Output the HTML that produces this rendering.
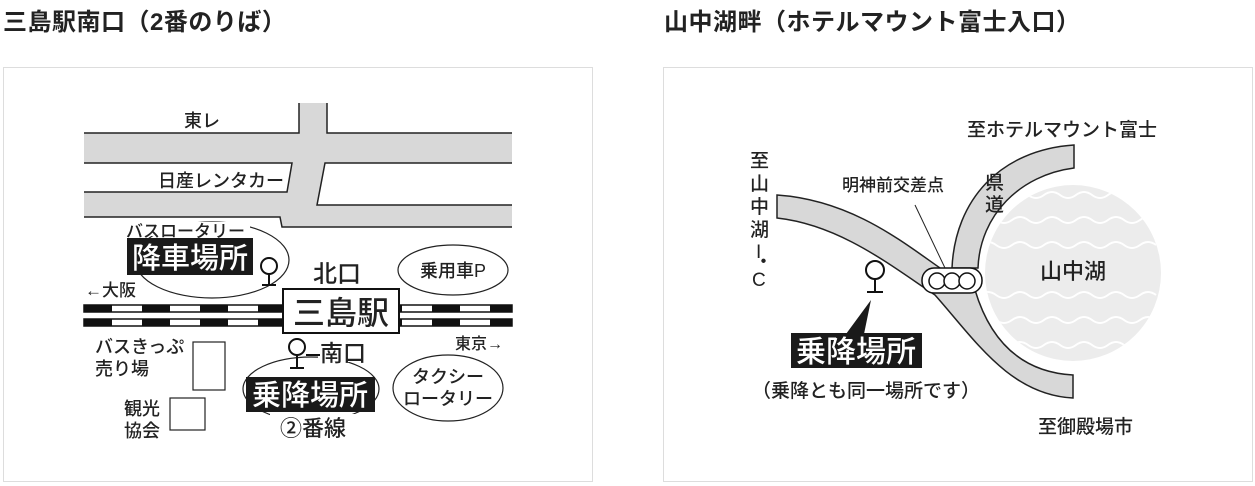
<!DOCTYPE html>
<html><head><meta charset="utf-8"><style>
html,body{margin:0;padding:0;background:#fff;width:1255px;height:486px;overflow:hidden}
svg{position:absolute;left:0;top:0}
text{font-family:"Liberation Sans","Noto Sans CJK JP",sans-serif;fill:#222;font-weight:500}
</style></head><body>
<svg width="1255" height="486" viewBox="0 0 1255 486">
<defs>
<pattern id="rail" x="84" y="0" width="58" height="10" patternUnits="userSpaceOnUse">
<rect x="0" y="0" width="28" height="10" fill="#111"/><rect x="28" y="0" width="30" height="10" fill="#fff"/>
</pattern>
<clipPath id="lake"><circle cx="1073" cy="273" r="88"/></clipPath>
</defs>
<text x="3" y="30" font-size="24" letter-spacing="0.5" style="font-weight:bold" fill="#333">三島駅南口（2番のりば）</text>
<text x="664" y="30" font-size="24" letter-spacing="0.5" style="font-weight:bold" fill="#333">山中湖畔（ホテルマウント富士入口）</text>
<rect x="3.5" y="67.5" width="589" height="414" fill="#fff" stroke="#ddd"/>
<rect x="663.5" y="67.5" width="589" height="414" fill="#fff" stroke="#ddd"/>

<!-- LEFT MAP -->
<path d="M84,133 L299,133 L299,103 L327,103 L327,133 L512,133 L512,227 L282,227 L280,217 L84,217 Z" fill="#d8d8d8"/>
<path d="M84,133 L299,133 L299,103 M327,103 L327,133 L512,133 M512,227 L282,227 L280,217 L84,217" fill="none" stroke="#222" stroke-width="1.5"/>
<path d="M84,163 L292,163 L287,192 L84,192" fill="#fff" stroke="#222" stroke-width="1.5"/>
<path d="M512,163 L325,163 L317,205 L512,205" fill="#fff" stroke="#222" stroke-width="1.5"/>
<text x="184" y="127" font-size="18">東レ</text>
<text x="158" y="187" font-size="18">日産レンタカー</text>

<rect x="84" y="305" width="428" height="7" fill="url(#rail)" stroke="#111" stroke-width="1.5"/>
<rect x="84" y="319" width="428" height="7" fill="url(#rail)" stroke="#111" stroke-width="1.5"/>
<rect x="283" y="289" width="116" height="44" fill="#fff" stroke="#111" stroke-width="2"/>
<text x="341" y="324" font-size="32" text-anchor="middle">三島駅</text>
<text x="313" y="282" font-size="24">北口</text>
<ellipse cx="453" cy="270" rx="55" ry="25" fill="none" stroke="#222" stroke-width="1.2"/>
<text x="453" y="277" font-size="18" text-anchor="middle">乗用車P</text>
<text x="455" y="349" font-size="16">東京→</text>
<ellipse cx="448" cy="388" rx="55" ry="33" fill="none" stroke="#222" stroke-width="1.2"/>
<text x="448" y="383" font-size="18" text-anchor="middle">タクシー</text>
<text x="448" y="405" font-size="18" text-anchor="middle">ロータリー</text>

<ellipse cx="212" cy="260" rx="77" ry="38" fill="none" stroke="#222" stroke-width="1.2"/>
<rect x="126" y="222" width="124" height="14" fill="#fff"/>
<text x="126" y="237" font-size="17">バスロータリー</text>
<rect x="127" y="238" width="126" height="37" fill="#1a1a1a"/>
<text x="190" y="268" font-size="29" text-anchor="middle" style="fill:#fff">降車場所</text>
<circle cx="269" cy="266" r="8" fill="#fff" stroke="#111" stroke-width="2"/>
<path d="M269,274 V285 M262,285 H276" stroke="#111" stroke-width="2"/>
<text x="85" y="296" font-size="17">←大阪</text>

<ellipse cx="311" cy="389" rx="68" ry="32" fill="none" stroke="#222" stroke-width="1.2"/>
<rect x="318" y="338" width="62" height="24" fill="#fff"/>
<circle cx="297" cy="347" r="8" fill="#fff" stroke="#111" stroke-width="2"/>
<path d="M297,355 V368 M290,368 H304 M306,355 H320" stroke="#111" stroke-width="2"/>
<text x="320" y="361" font-size="23">南口</text>
<rect x="246" y="377" width="129" height="35" fill="#1a1a1a"/>
<text x="310" y="405" font-size="29" text-anchor="middle" style="fill:#fff">乗降場所</text>
<rect x="270" y="414" width="88" height="26" fill="#fff"/>
<text x="313" y="436" font-size="22" text-anchor="middle">②番線</text>
<text x="95" y="353" font-size="18">バスきっぷ</text>
<text x="95" y="375" font-size="18">売り場</text>
<rect x="193" y="342" width="32" height="48" fill="#fff" stroke="#222" stroke-width="1.2"/>
<rect x="170" y="398" width="35" height="32" fill="#fff" stroke="#222" stroke-width="1.2"/>
<text x="124" y="415" font-size="18">観光</text>
<text x="124" y="437" font-size="18">協会</text>

<!-- RIGHT MAP -->
<circle cx="1073" cy="273" r="88" fill="#ececec"/>
<g clip-path="url(#lake)" fill="none" stroke="#fff" stroke-width="2">
<path d="M980,195 q8,-6 16,0 t16,0 t16,0 t16,0 t16,0 t16,0 t16,0 t16,0 t16,0 t16,0 t16,0"/>
<path d="M980,220 q8,-6 16,0 t16,0 t16,0 t16,0 t16,0 t16,0 t16,0 t16,0 t16,0 t16,0 t16,0"/>
<path d="M980,245 q8,-6 16,0 t16,0 t16,0 t16,0 t16,0 t16,0 t16,0 t16,0 t16,0 t16,0 t16,0"/>
<path d="M980,295 q8,-6 16,0 t16,0 t16,0 t16,0 t16,0 t16,0 t16,0 t16,0 t16,0 t16,0 t16,0"/>
<path d="M980,320 q8,-6 16,0 t16,0 t16,0 t16,0 t16,0 t16,0 t16,0 t16,0 t16,0 t16,0 t16,0"/>
<path d="M980,345 q8,-6 16,0 t16,0 t16,0 t16,0 t16,0 t16,0 t16,0 t16,0 t16,0 t16,0 t16,0"/>
</g>
<text x="1073" y="279" font-size="22" text-anchor="middle">山中湖</text>
<path d="M1074,145 C1000,150 955,200 952,268 L978,268 C980,215 1020,175 1074,168 Z" fill="#d8d8d8" stroke="#222" stroke-width="1.5"/>
<path d="M777,195 C850,200 900,240 940,268 L975,290 C990,340 1020,372 1073,375 L1073,398 C1010,395 975,340 935,295 C890,265 840,225 777,218 Z" fill="#d8d8d8" stroke="#222" stroke-width="1.5"/>
<rect x="922" y="268" width="60" height="25" rx="12" fill="#fff" stroke="#111" stroke-width="1.5"/>
<circle cx="937" cy="281" r="8" fill="#fff" stroke="#111" stroke-width="1.5"/>
<circle cx="952" cy="281" r="8" fill="#fff" stroke="#111" stroke-width="1.5"/>
<circle cx="967" cy="281" r="8" fill="#fff" stroke="#111" stroke-width="1.5"/>
<text x="842" y="191" font-size="17">明神前交差点</text>
<path d="M915,205 L945,268" stroke="#222" stroke-width="1"/>
<text x="985" y="189" font-size="19">県</text>
<text x="985" y="211" font-size="19">道</text>
<text x="967" y="136" font-size="19">至ホテルマウント富士</text>
<g font-size="19">
<text x="750" y="167">至</text><text x="750" y="190">山</text><text x="750" y="213">中</text><text x="750" y="236">湖</text>
<text x="756" y="258">I</text><text x="754" y="268">・</text><text x="752" y="286">C</text>
</g>
<text x="1038" y="433" font-size="19">至御殿場市</text>
<circle cx="875" cy="270" r="9" fill="#fff" stroke="#111" stroke-width="2"/>
<path d="M875,279 V292 M867,292 H883" stroke="#111" stroke-width="2"/>
<path d="M871,300 L846,334 L864,334 Z" fill="#1a1a1a"/>
<rect x="791" y="333" width="131" height="35" fill="#1a1a1a"/>
<text x="856" y="362" font-size="30" text-anchor="middle" style="fill:#fff">乗降場所</text>
<text x="752" y="397" font-size="19">（乗降とも同一場所です）</text>
</svg>
</body></html>
